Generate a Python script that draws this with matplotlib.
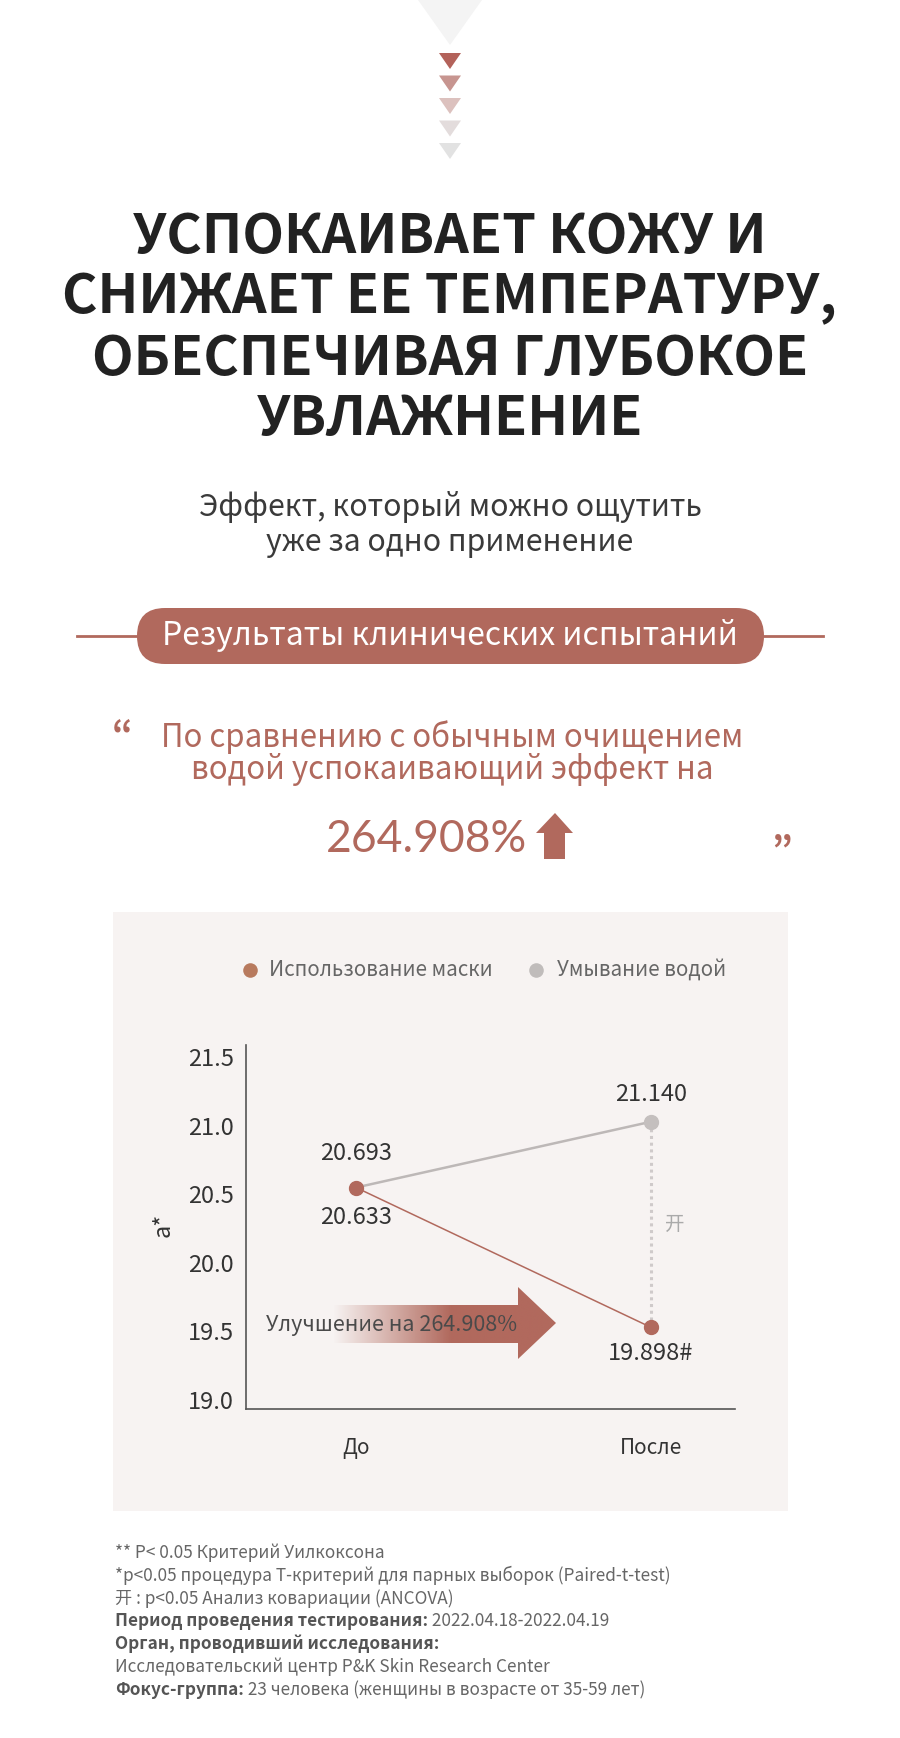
import matplotlib
matplotlib.use('Agg')
import matplotlib.pyplot as plt
import numpy as np
from matplotlib.patches import Polygon, FancyBboxPatch
from matplotlib.colors import to_rgb

plt.rcParams['font.family'] = ['Noto Sans CJK KR', 'DejaVu Sans']

BRAND = '#b1695d'

# chart data (positions as drawn in the picture, labels as printed)
stages = ['До', 'После']
mask_vals = [20.55, 19.53]
water_vals = [20.55, 21.03]
mask_labels = ['20.633', '19.898#']
water_labels = ['20.693', '21.140']
y_ticks = [19.0, 19.5, 20.0, 20.5, 21.0, 21.5]
legend_names = ['Использование маски', 'Умывание водой']

title_lines = ['УСПОКАИВАЕТ КОЖУ И', 'СНИЖАЕТ ЕЕ ТЕМПЕРАТУРУ,',
               'ОБЕСПЕЧИВАЯ ГЛУБОКОЕ', 'УВЛАЖНЕНИЕ']
subtitle_lines = ['Эффект, который можно ощутить', 'уже за одно применение']
quote_lines = ['По сравнению с обычным очищением', 'водой успокаивающий эффект на']
footnotes = [
    ('', '** P< 0.05 Критерий Уилкоксона'),
    ('', '*p<0.05 процедура T-критерий для парных выборок (Paired-t-test)'),
    ('', '开 : p<0.05 Анализ ковариации (ANCOVA)'),
    ('Период проведения тестирования:', ' 2022.04.18-2022.04.19'),
    ('Орган, проводивший исследования:', ''),
    ('', 'Исследовательский центр P&K Skin Research Center'),
    ('Фокус-группа:', ' 23 человека (женщины в возрасте от 35-59 лет)'),
]

W, H = 900, 1738
fig = plt.figure(figsize=(W / 100, H / 100), dpi=100)
bg = fig.add_axes([0, 0, 1, 1])
bg.set_xlim(0, W)
bg.set_ylim(H, 0)
bg.axis('off')

# header arrows
bg.add_patch(Polygon([(418, 0), (482, 0), (450, 45)], closed=True, color='#f4f4f4', lw=0))
tri_colors = ['#b3625a', '#c79590', '#dcc1be', '#e3dcdc', '#e2e2e2']
for i, c in enumerate(tri_colors):
    top = 53 + i * 22.5
    bg.add_patch(Polygon([(439, top), (461, top), (450, top + 16)], closed=True, color=c, lw=0))

# title
for i, line in enumerate(title_lines):
    bg.text(450, 237 + i * 61, line, ha='center', va='center', fontsize=39,
            fontweight='black', color='#222222')

for i, line in enumerate(subtitle_lines):
    bg.text(450, 507 + i * 36, line, ha='center', va='center', fontsize=21.8,
            color='#3a3a3a')

# pill banner
bg.plot([77, 137], [636, 636], color=BRAND, lw=2)
bg.plot([764, 823], [636, 636], color=BRAND, lw=2)
bg.add_patch(FancyBboxPatch((137, 608), 627, 56,
                            boxstyle='round,pad=0,rounding_size=28',
                            color=BRAND, lw=0))
bg.text(450, 636, 'Результаты клинических испытаний', ha='center', va='center',
        fontsize=23, color='white', fontweight='medium')

# quote
bg.text(122, 736, '“', ha='center', va='center', fontsize=26, fontweight='bold', color=BRAND)
for i, line in enumerate(quote_lines):
    bg.text(452, 737 + i * 33, line, ha='center', va='center', fontsize=22.5,
            color=BRAND)
bg.text(527, 840, '264.908%', ha='right', va='center', fontsize=32,
        family=['Lato', 'DejaVu Sans'], color=BRAND)
bg.add_patch(Polygon([(555, 813), (573, 833), (565, 833), (565, 859), (544, 859),
                      (544, 833), (536, 833)], closed=True, color=BRAND, lw=0))
bg.text(782, 852, '”', ha='center', va='center', fontsize=26, fontweight='bold', color=BRAND)

# chart panel
bg.add_patch(plt.Rectangle((113, 912), 675, 599, color='#f7f3f2', lw=0, zorder=1))

# legend
leg_colors = ['#b87a5e', '#c0bcbb']
for (dx, tx), name, c in zip([(250, 269), (536, 557)], legend_names, leg_colors):
    bg.scatter([dx], [970], s=110, color=c, lw=0, zorder=3)
    bg.text(tx, 970, name, ha='left', va='center', fontsize=14.8,
            color='#666666', zorder=3)

# gradient arrow
arrow = Polygon([(333, 1305), (518, 1305), (518, 1287), (556, 1323), (518, 1359),
                 (518, 1343), (333, 1343)], closed=True, facecolor='none', lw=0)
bg.add_patch(arrow)
grad = np.zeros((2, 300, 4))
grad[..., :3] = to_rgb(BRAND)
grad[..., 3] = np.clip(np.linspace(0, 1.9, 300), 0, 1)
im = bg.imshow(grad, extent=(333, 556, 1359, 1287), aspect='auto',
               interpolation='bilinear', zorder=2)
im.set_clip_path(arrow)
bg.set_xlim(0, W)
bg.set_ylim(H, 0)
bg.text(266, 1325, 'Улучшение на 264.908%', ha='left', va='center', fontsize=15.5,
        color='#4a4a4a', zorder=3)

# line chart
ax = fig.add_axes([246 / W, 1 - 1409 / H, 489 / W, 364 / H])
ax.patch.set_alpha(0)
x = np.arange(len(stages))
ax.plot(x, water_vals, color='#bdb8b7', lw=1.8, zorder=2)
ax.plot(x, mask_vals, color=BRAND, lw=1.1, zorder=2)
ax.plot([x[1], x[1]], [water_vals[1], mask_vals[1]], color='#cfcaca', lw=2.2,
        linestyle=(0, (1, 1.2)), zorder=1)
ax.plot(x[1:], water_vals[1:], 'o', color='#c4bfbe', ms=10, zorder=3)
ax.plot(x, mask_vals, 'o', color=BRAND, ms=10, zorder=4)

lbl = dict(textcoords='offset points', ha='center', va='center', fontsize=17,
           color='#333333')
ax.annotate(water_labels[0], (x[0], water_vals[0]), xytext=(0, 24.5), **lbl)
ax.annotate(mask_labels[0], (x[0], mask_vals[0]), xytext=(0, -21.5), **lbl)
ax.annotate(water_labels[1], (x[1], water_vals[1]), xytext=(0, 19.5), **lbl)
ax.annotate(mask_labels[1], (x[1], mask_vals[1]), xytext=(0, -19), **lbl)
ax.annotate('开', (x[1], (water_vals[1] + mask_vals[1]) / 2), xytext=(17, 0),
            textcoords='offset points', ha='center', va='center', fontsize=14,
            color='#aaaaaa')

ax.set_xlim(-0.373, 1.285)
ax.set_ylim(18.934, 21.59)
ax.set_yticks(y_ticks)
ax.set_yticklabels([f'{v:.1f}' for v in y_ticks], fontsize=17, color='#333333')
ax.set_xticks(x)
ax.set_xticklabels(stages, fontsize=15, color='#333333')
ax.tick_params(axis='both', length=0)
ax.tick_params(axis='y', pad=8.5)
ax.tick_params(axis='x', pad=20)
for s in ['top', 'right']:
    ax.spines[s].set_visible(False)
for s in ['left', 'bottom']:
    ax.spines[s].set_color('#555555')
    ax.spines[s].set_linewidth(1.2)
bg.text(163, 1225, 'a*', rotation=90, ha='center', va='center', fontsize=17,
        color='#333333', zorder=3)

# footnotes
renderer = fig.canvas.get_renderer()
for i, (bold, rest) in enumerate(footnotes):
    y = 1558 + i * 22.8
    xpos = 115
    if bold:
        t = bg.text(xpos, y, bold, ha='left', va='baseline', fontsize=12.4,
                    fontweight='bold', color='#555555')
        xpos = t.get_window_extent(renderer).x1
    if rest:
        bg.text(xpos, y, rest, ha='left', va='baseline', fontsize=12.4,
                color='#666666')

fig.savefig('out.png', dpi=100, facecolor='white')
